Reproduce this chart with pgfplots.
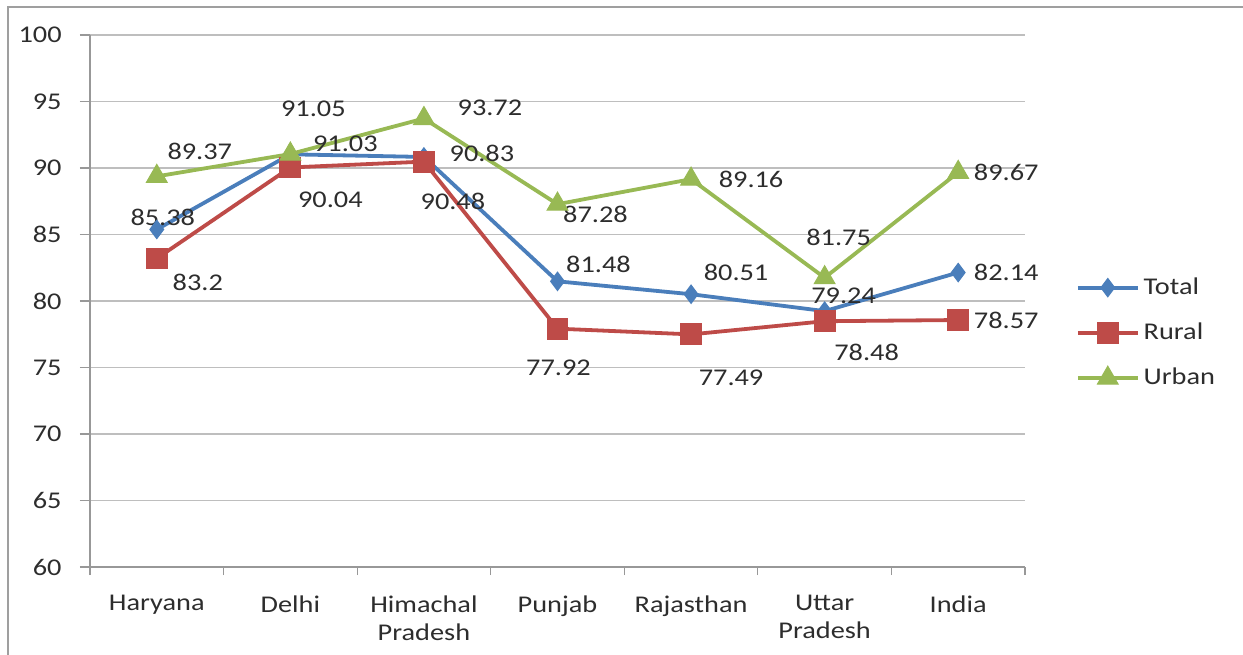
\documentclass[border=0pt]{standalone}
\usepackage{pgfplots}
\pgfplotsset{compat=1.18}
\usepackage{pgfplotstable}
\usepackage{fontspec}
\setmainfont{Carlito}[FakeStretch=1.18]
\definecolor{cTotal}{RGB}{74,126,187}
\definecolor{cRural}{RGB}{190,75,72}
\definecolor{cUrban}{RGB}{152,185,84}
\definecolor{cGrid}{RGB}{190,190,190}
\definecolor{cText}{RGB}{45,45,45}
\pgfplotstableread{
x total rural urban
0 85.38 83.20 89.37
1 91.03 90.04 91.05
2 90.83 90.48 93.72
3 81.48 77.92 87.28
4 80.51 77.49 89.16
5 79.24 78.48 81.75
6 82.14 78.57 89.67
}\data
\begin{document}
\fontsize{12}{14}\selectfont
\begin{tikzpicture}
\useasboundingbox (-45pt,-43.5pt) rectangle (576.5pt,283.5pt);
\draw[gray!75, line width=1.2pt] (-41pt,-60pt) -- (-41pt,280pt) -- (600pt,280pt);
\begin{axis}[
  scale only axis, width=467.5pt, height=266pt,
  xmin=-0.5, xmax=6.5, ymin=60, ymax=100,
  ytick={60,65,...,100},
  xtick={0,...,6},
  xticklabels={Haryana,Delhi,{Himachal\\Pradesh},Punjab,Rajasthan,{Uttar\\Pradesh},India},
  x tick label style={align=center, text=cText, font=\fontsize{12}{14}\selectfont, yshift=-5pt},
  y tick label style={text=cText, font=\fontsize{12}{14}\selectfont, xshift=-5pt},
  /pgf/number format/assume math mode=true,
  minor xtick={-0.5,0.5,...,6.5},
  tick align=outside,
  major x tick style={draw=none},
  minor x tick style={draw=cGrid!80!black, line width=0.6pt},
  major y tick style={draw=cGrid!80!black, line width=0.6pt},
  major tick length=5pt, minor tick length=4pt,
  axis lines*=left,
  axis line style={draw=cGrid!80!black, line width=0.6pt, -},
  ymajorgrids, grid style={draw=cGrid, line width=0.6pt},
  clip=false,
  legend style={at={(1.054,0.44)}, anchor=west, draw=none, fill=none,
    row sep=8.5pt, font=\fontsize{12}{14}\selectfont, text=cText,
    inner sep=0pt},
  legend cell align=left,
  legend image code/.code={\draw[mark repeat=2,mark phase=2] plot coordinates {(0pt,0pt)(15pt,0pt)(30pt,0pt)};},
]
\addplot[cTotal, line width=1.9pt, mark=diamond*, mark size=4.6pt, mark options={solid, fill=cTotal, line width=0.5pt}] table[x=x,y=total]{\data};
\addlegendentry{Total}
\addplot[cRural, line width=1.9pt, mark=square*, mark size=5.2pt, mark options={solid, fill=cRural, line width=0.5pt}] table[x=x,y=rural]{\data};
\addlegendentry{Rural}
\addplot[cUrban, line width=1.9pt, mark=triangle*, mark size=6pt, mark options={solid, fill=cUrban, line width=0.5pt}] table[x=x,y=urban]{\data};
\addlegendentry{Urban}
% Data labels
\tikzset{dl/.style={text=cText, font=\fontsize{12}{14}\selectfont, inner sep=0pt}}
% Urban
\node[dl] at ([xshift=21.5pt,yshift=12.5pt]axis cs:0,89.37) {89.37};
\node[dl] at ([xshift=11.5pt,yshift=22.5pt]axis cs:1,91.05) {91.05};
\node[dl] at ([xshift=33pt,yshift=5.5pt]axis cs:2,93.72) {93.72};
\node[dl] at ([xshift=19pt,yshift=-5pt]axis cs:3,87.28) {87.28};
\node[dl] at ([xshift=30pt,yshift=0pt]axis cs:4,89.16) {89.16};
\node[dl] at ([xshift=7pt,yshift=20pt]axis cs:5,81.75) {81.75};
\node[dl] at ([xshift=24pt,yshift=0pt]axis cs:6,89.67) {89.67};
% Total
\node[dl] at ([xshift=3pt,yshift=6pt]axis cs:0,85.38) {85.38};
\node[dl] at ([xshift=27.5pt,yshift=5pt]axis cs:1,91.03) {91.03};
\node[dl] at ([xshift=29pt,yshift=2pt]axis cs:2,90.83) {90.83};
\node[dl] at ([xshift=20.5pt,yshift=8.5pt]axis cs:3,81.48) {81.48};
\node[dl] at ([xshift=22.5pt,yshift=11pt]axis cs:4,80.51) {80.51};
\node[dl] at ([xshift=9.5pt,yshift=7.5pt]axis cs:5,79.24) {79.24};
\node[dl] at ([xshift=24pt,yshift=0pt]axis cs:6,82.14) {82.14};
% Rural
\node[dl] at ([xshift=20.5pt,yshift=-12pt]axis cs:0,83.2) {83.2};
\node[dl] at ([xshift=20pt,yshift=-16pt]axis cs:1,90.04) {90.04};
\node[dl] at ([xshift=14.5pt,yshift=-20pt]axis cs:2,90.48) {90.48};
\node[dl] at ([xshift=0.5pt,yshift=-19.5pt]axis cs:3,77.92) {77.92};
\node[dl] at ([xshift=20pt,yshift=-21.5pt]axis cs:4,77.49) {77.49};
\node[dl] at ([xshift=21pt,yshift=-15.5pt]axis cs:5,78.48) {78.48};
\node[dl] at ([xshift=24pt,yshift=0pt]axis cs:6,78.57) {78.57};
\end{axis}
\end{tikzpicture}
\end{document}
